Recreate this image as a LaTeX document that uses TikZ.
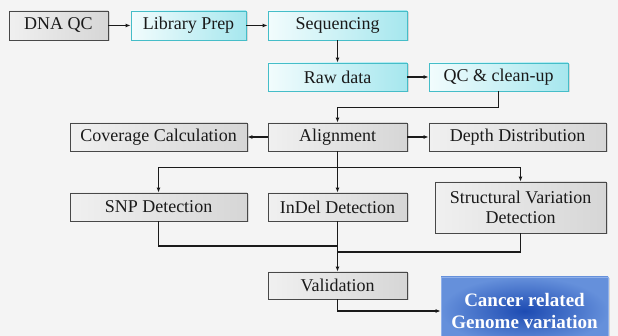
\documentclass[tikz,border=0pt]{standalone}
\usepackage{fontspec}
\setmainfont{Liberation Serif}
\usepackage{tikz}
\usetikzlibrary{arrows.meta,positioning,shadows,calc}
\definecolor{paper}{HTML}{F4F4F4}
\definecolor{ink}{HTML}{1A1A1A}
\definecolor{tealbd}{HTML}{45BDC8}
\definecolor{cyanlt}{HTML}{F2FCFD}
\definecolor{cyandk}{HTML}{A6E7EE}
\definecolor{greylt}{HTML}{F0F0F0}
\definecolor{greymd}{HTML}{A4A4A4}
\definecolor{greyrt}{HTML}{D6D6D6}
\definecolor{bluedk}{HTML}{1D4BB2}
\definecolor{bluelt}{HTML}{6590DB}
\definecolor{bluebd}{HTML}{8FB0EA}
\tikzset{
  box/.style     = {rectangle, draw=ink!80, line width=0.8pt, text=ink, align=center,
                    font=\fontsize{18}{20}\selectfont, inner sep=2pt,
                    drop shadow={opacity=0.25, shadow xshift=1.5pt, shadow yshift=-1.5pt}},
  greybox/.style = {box, left color=greylt, middle color=greymd, right color=greyrt},
  cyanbox/.style = {box, draw=tealbd, left color=cyanlt, right color=cyandk},
  bluebox/.style = {box, draw=bluebd, inner color=bluedk, outer color=bluelt, text=white,
                    font=\fontsize{19}{22}\selectfont\bfseries},
  fl/.style      = {-{Latex[length=5pt,width=4pt]}, line width=1.3pt, draw=ink},
  ln/.style      = {line width=1.3pt, draw=ink},
}
\begin{document}
\begin{tikzpicture}[x=1pt,y=-1pt]
\fill[paper] (0,0) rectangle (618,336);
\useasboundingbox (0,0) rectangle (618,336);
% preparation
\node[greybox, minimum width=99pt, minimum height=29pt] (dnaqc) at (58.5,25.5) {DNA QC};
\node[cyanbox, minimum width=115pt, minimum height=29pt] (libprep) at (188.5,25.5) {Library Prep};
\node[cyanbox, minimum width=139pt, minimum height=29pt] (seq) at (337.5,25.5) {Sequencing};
\node[cyanbox, minimum width=139pt, minimum height=28pt] (raw) at (337.5,77) {Raw data};
\node[cyanbox, minimum width=139pt, minimum height=28pt] (qc) at (498.5,77) {QC \& clean-up};
% mapping
\node[greybox, minimum width=139pt, minimum height=28pt] (align) at (337.5,137) {Alignment};
\node[greybox, minimum width=177pt, minimum height=28pt] (cov) at (158.5,137) {Coverage Calculation};
\node[greybox, minimum width=177pt, minimum height=28pt] (depth) at (517.5,137) {Depth Distribution};
% detection
\node[greybox, minimum width=177pt, minimum height=28pt] (snp) at (158.5,207) {SNP Detection};
\node[greybox, minimum width=139pt, minimum height=28pt] (indel) at (337.5,207) {InDel Detection};
\node[greybox, minimum width=171pt, minimum height=51pt] (sv) at (520.5,207.5) {Structural Variation\\Detection};
% result
\node[greybox, minimum width=139pt, minimum height=27pt] (valid) at (337.5,285.5) {Validation};
\node[bluebox, minimum width=167pt, minimum height=68pt] (cancer) at (524.5,311) {Cancer related\\Genome variation};
% edges
\draw[fl] (dnaqc) -- (libprep);
\draw[fl] (libprep) -- (seq);
\draw[fl] (seq) -- (raw);
\draw[fl] (raw) -- (qc);
\draw[fl] (qc.south) -- ++(0,16) -| (align.north);
\draw[fl] (align) -- (depth);
\draw[fl] (align) -- (cov);
\draw[ln] (align.south) -- ++(0,16) coordinate (split);
\draw[fl] (split) -| (snp.north);
\draw[fl] (split) -| (sv.north);
\draw[fl] (split) -- (indel.north);
\coordinate (mergeA) at (337.5,246);
\coordinate (mergeB) at (337.5,252);
\draw[ln] (snp.south) |- (mergeA);
\draw[ln] (sv.south) |- (mergeB);
\draw[fl] (indel.south) -- (valid.north);
\draw[fl] (valid.south) |- (cancer.west);
\end{tikzpicture}
\end{document}
